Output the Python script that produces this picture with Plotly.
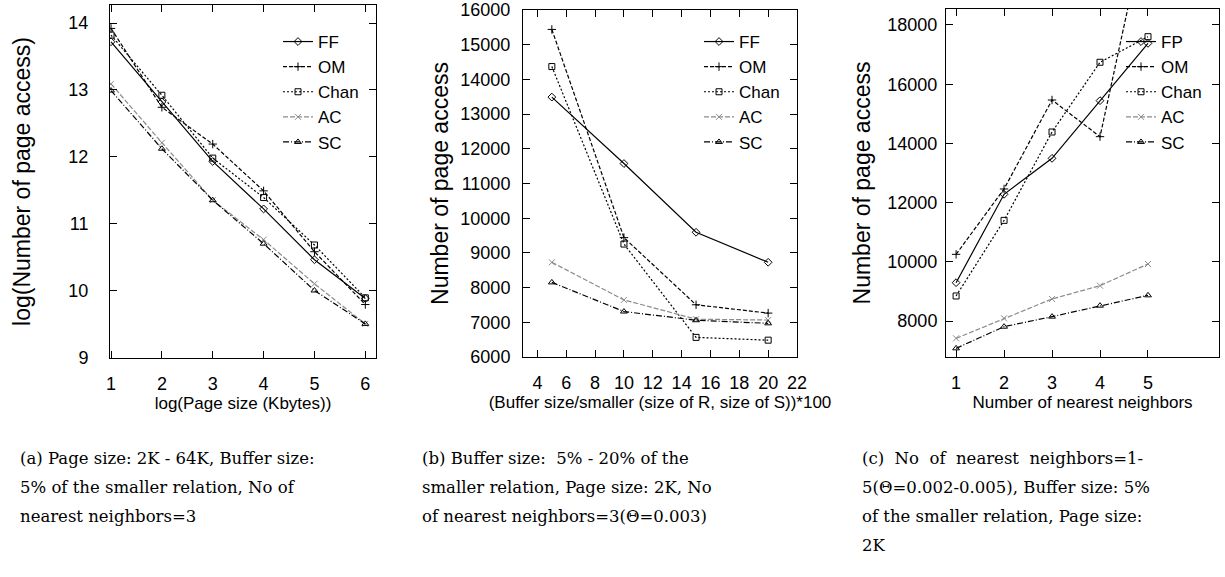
import plotly.graph_objects as go

# ---------------- data ----------------
series_names = ["FF", "OM", "Chan", "AC", "SC"]
series_names_c = ["FP", "OM", "Chan", "AC", "SC"]

# (a) log(page size) vs log(number of page access)
a_x = [1, 2, 3, 4, 5, 6]
a_FF = [13.72, 12.82, 11.93, 11.22, 10.46, 9.88]
a_OM = [13.92, 12.74, 12.19, 11.49, 10.58, 9.79]
a_Chan = [13.82, 12.92, 11.98, 11.39, 10.68, 9.89]
a_AC = [13.09, 12.21, 11.35, 10.76, 10.10, 9.50]
a_SC = [12.99, 12.12, 11.35, 10.70, 10.00, 9.50]

# (b) buffer size (%) vs number of page access
b_x = [5, 10, 15, 20]
b_FF = [13490, 11575, 9595, 8730]
b_OM = [15440, 9440, 7505, 7265]
b_Chan = [14370, 9255, 6565, 6485]
b_AC = [8728, 7645, 7090, 7065]
b_SC = [8150, 7310, 7060, 6970]

# (c) number of nearest neighbors vs number of page access
c_x = [1, 2, 3, 4, 5]
c_FF = [9295, 12280, 13495, 15444, 17380]
c_OM = [10252, 12460, 15466, 14227, 21700]
c_Chan = [8845, 11400, 14385, 16740, 17605]
c_AC = [7414, 8090, 8744, 9194, 9926]
c_SC = [7077, 7808, 8147, 8518, 8867]

a_ticks = [1, 2, 3, 4, 5, 6]
a_yticks = [9, 10, 11, 12, 13, 14]
b_ticks = [4, 6, 8, 10, 12, 14, 16, 18, 20, 22]
b_yticks = [6000, 7000, 8000, 9000, 10000, 11000, 12000, 13000, 14000, 15000, 16000]
c_ticks = [1, 2, 3, 4, 5]
c_yticks = [8000, 10000, 12000, 14000, 16000, 18000]

x_titles = ["log(Page size (Kbytes))",
            "(Buffer size/smaller (size of R, size of S))*100",
            "Number of nearest neighbors"]
y_titles = ["log(Number of page access)", "Number of page access", "Number of page access"]

captions = [
    ["(a) Page size: 2K - 64K, Buffer size:", "5% of the smaller relation, No of", "nearest neighbors=3"],
    ["(b) Buffer size:  5% - 20% of the", "smaller relation, Page size: 2K, No", "of nearest neighbors=3(\u0398=0.003)"],
    ["(c)  No  of  nearest  neighbors=1-", "5(\u0398=0.002-0.005), Buffer size: 5%",
     "of the smaller relation, Page size:", "2K"],
]

# ---------------- styles ----------------
W, H = 1225, 577
SANS = "Liberation Sans, Arial, Helvetica, sans-serif"
SERIF = "DejaVu Serif, Liberation Serif, serif"

styles = [
    dict(color="black", dash="solid", symbol="diamond-open", size=6),
    dict(color="black", dash="4px,2px", symbol="cross-thin-open", size=6),
    dict(color="black", dash="2px,2px", symbol="square-open", size=6),
    dict(color="#8a8a8a", dash="5px,2px", symbol="x-thin-open", size=6),
    dict(color="black", dash="6px,2px,1px,2px", symbol="triangle-up-open", size=6),
]

fig = go.Figure()

panels = [
    (a_x, [a_FF, a_OM, a_Chan, a_AC, a_SC], series_names),
    (b_x, [b_FF, b_OM, b_Chan, b_AC, b_SC], series_names),
    (c_x, [c_FF, c_OM, c_Chan, c_AC, c_SC], series_names_c),
]

for p, (xs, ys_list, names) in enumerate(panels):
    sfx = "" if p == 0 else str(p + 1)
    for name, ys, st in zip(names, ys_list, styles):
        fig.add_trace(go.Scatter(
            x=xs, y=ys, name=name, mode="lines+markers",
            xaxis="x" + sfx, yaxis="y" + sfx,
            legend="legend" + sfx,
            line=dict(color=st["color"], dash=st["dash"], width=1.2),
            marker=dict(symbol=st["symbol"], size=st["size"], color=st["color"],
                        line=dict(color=st["color"], width=1)),
        ))

# pixel geometry of each plot box (left, right, top, bottom)
boxes = [(110, 376, 5, 358), (523, 797, 10, 357), (946, 1219, 9, 357)]
xranges = [[0.98, 6.21], [3, 22], [0.79, 6.48]]
yranges = [[8.99, 14.27], [6000, 16000], [6784, 18540]]
xtickv = [a_ticks, b_ticks, c_ticks]
ytickv = [a_yticks, b_yticks, c_yticks]
ylabel_standoff = [17, 8, 4]
ytitle_standoff = [31, 5, 10]

layout = dict(
    width=W, height=H,
    margin=dict(l=0, r=0, t=0, b=0),
    paper_bgcolor="white", plot_bgcolor="white",
    showlegend=True,
    annotations=[],
)

for p in range(3):
    sfx = "" if p == 0 else str(p + 1)
    l, r, t, b = boxes[p]
    common = dict(showline=True, linecolor="black", linewidth=1, mirror="ticks",
                  ticks="inside", ticklen=7, tickcolor="black", tickwidth=1,
                  showgrid=False, zeroline=False, automargin=False,
                  tickformat="d",
                  tickfont=dict(family=SANS, size=18, color="black"))
    layout["xaxis" + sfx] = dict(
        common, domain=[l / W, r / W], range=xranges[p], tickmode="array",
        tickvals=xtickv[p], anchor="y" + sfx, ticklabelstandoff=9,
        title=dict(text=x_titles[p], standoff=3,
                   font=dict(family=SANS, size=17, color="black")))
    layout["yaxis" + sfx] = dict(
        common, domain=[1 - b / H, 1 - t / H], range=yranges[p], tickmode="array",
        tickvals=ytickv[p], anchor="x" + sfx, ticklabelstandoff=ylabel_standoff[p],
        title=dict(text=y_titles[p], standoff=ytitle_standoff[p],
                   font=dict(family=SANS, size=23, color="black")))
    layout["legend" + sfx] = dict(
        x=(r - 12) / W, xanchor="right", y=1 - 24 / H, yanchor="top",
        xref="paper", yref="paper",
        bgcolor="rgba(0,0,0,0)", borderwidth=0,
        font=dict(family=SANS, size=17, color="black"),
        tracegroupgap=0, itemwidth=30,
    )

cap_x = [18, 420, 860]
cap_y = [458, 487, 516, 545]
for p in range(3):
    for i, line in enumerate(captions[p]):
        layout["annotations"].append(dict(
            text=line, xref="paper", yref="paper",
            x=cap_x[p] / W, y=1 - cap_y[i] / H, xanchor="left", yanchor="middle",
            showarrow=False, font=dict(family=SERIF, size=16.5, color="black")))

fig.update_layout(**layout)
fig.write_html("out.html", config={"displayModeBar": False},
               post_script="document.body.style.margin='0px';")
